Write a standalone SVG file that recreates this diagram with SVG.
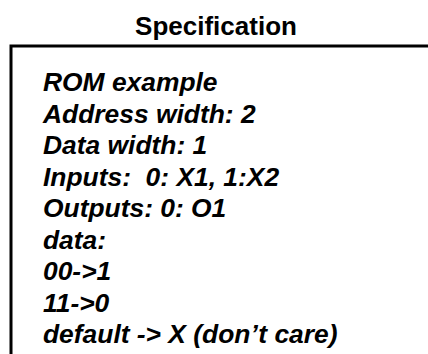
<svg xmlns="http://www.w3.org/2000/svg" width="428" height="354" viewBox="0 0 428 354">
<style>
.t{font-family:"Liberation Sans",Arial,sans-serif;font-weight:bold;fill:#000}
.b{font-size:26.4px;font-style:italic}
</style>
<rect width="428" height="354" fill="#fff"/>
<g id="title"><text class="t" x="216" y="35" font-size="26" text-anchor="middle">Specification</text></g>
<g id="spec">
<path d="M11 356 V46 H430" fill="none" stroke="#000" stroke-width="3"/>
<text class="t b" x="43" y="91">ROM example</text>
<text class="t b" x="43" y="122.5">Address width: 2</text>
<text class="t b" x="43" y="154">Data width: 1</text>
<text class="t b" x="43" y="185.5" xml:space="preserve">Inputs:  0: X1, 1:X2</text>
<text class="t b" x="43" y="217">Outputs: 0: O1</text>
<text class="t b" x="43" y="248.5">data:</text>
<text class="t b" x="43" y="280">00-&gt;1</text>
<text class="t b" x="43" y="311.5">11-&gt;0</text>
<text class="t b" x="43" y="343">default -&gt; X (don’t care)</text>
</g>
</svg>
